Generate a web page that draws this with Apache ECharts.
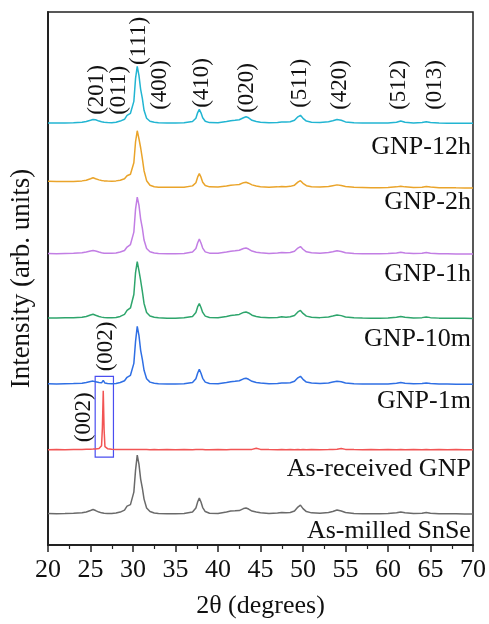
<!DOCTYPE html>
<html>
<head>
<meta charset="utf-8">
<title>XRD patterns</title>
<script src="https://cdn.jsdelivr.net/npm/echarts@6/dist/echarts.min.js"></script>
<style>
  html, body { margin: 0; padding: 0; background: #fff; }
  #main { width: 489px; height: 624px; }
</style>
</head>
<body>
<div id="main"></div>
<script>
// 2-theta sample points (degrees)
var twoTheta = [
  20, 21, 22, 23, 24, 24.5, 25, 25.3, 25.6, 26,
  26.3, 26.4, 26.5, 26.6, 26.7, 27, 27.5, 28, 28.5, 29,
  29.3, 29.5, 29.7, 29.9, 30.1, 30.3, 30.5, 30.7, 30.9, 31.1,
  31.3, 31.6, 32, 32.5, 33, 34, 35, 36, 37, 37.4,
  37.6, 37.8, 38, 38.2, 38.5, 39, 40, 41, 41.5, 42,
  42.5, 43, 43.3, 43.6, 44, 44.5, 45, 46, 47, 47.5,
  48, 48.5, 49, 49.4, 49.7, 50, 50.4, 51, 52, 53,
  53.5, 54, 54.5, 55, 56, 57, 58, 59, 60, 61,
  61.5, 62, 63, 64, 64.5, 65, 66, 67, 68, 69,
  70
];

// intensities above each pattern's own baseline (arb. units)
var asMilled = [
  0.5, 0.3, 0.5, 0.8, 1.2, 2, 3.5, 4.5, 3.5, 2,
  1.2, 1, 0.8, 0.8, 0.8, 0.6, 0.5, 1, 2, 4,
  8, 9.5, 9.5, 11, 22, 44, 59, 50, 35, 26,
  15, 6, 2.5, 1, 0.5, 0.2, 0.2, 0.5, 2, 6,
  12, 16, 12, 6.5, 2.5, 0.8, 0.5, 2, 3, 3.2,
  3.5, 5.5, 6, 5, 3, 2, 1.2, 0.6, 1, 1.5,
  1.2, 1.5, 3, 7, 9, 5.5, 2.5, 1.2, 0.8, 1.5,
  2.5, 4, 3, 1.5, 0.6, 0.4, 0.4, 0.3, 0.5, 1.2,
  2, 1.2, 0.5, 0.8, 1.6, 0.9, 0.3, 0.2, 0.2, 0.1,
  0
];
var asReceived = [
  0, 0.2, 0, 0.2, 0.3, 0.4, 0.5, 0.6, 0.8, 1.2,
  4, 22, 59, 20, 3, 1, 0.5, 0.3, 0.2, 0.2,
  0.2, 0.1, 0.2, 0.1, 0.2, 0.1, 0.2, 0.1, 0.2, 0.1,
  0.1, 0.1, 0, 0.1, 0, 0.1, 0, 0.1, 0, 0.1,
  0, 0.1, 0, 0.1, 0, 0, 0.1, 0, 0.1, 0.2,
  0.1, 0.2, 0.2, 0.1, 0.3, 1.5, 0.3, 0.1, 0, 0.1,
  0, 0.1, 0, 0.1, 0, 0.1, 0, 0.1, 0, 0.1,
  0.2, 0.4, 1.2, 0.3, 0.1, 0, 0.1, 0, 0.1, 0,
  0.1, 0, 0.1, 0, 0.1, 0, 0.1, 0, 0.1, 0,
  0
];
var gnp1m = [
  0.5, 0.3, 0.5, 0.7, 1, 1.8, 2.8, 3.2, 2.6, 1.8,
  1.5, 2.5, 4, 2, 1.2, 0.8, 0.6, 0.9, 1.8, 3.5,
  7, 8.5, 9, 10.5, 21, 43, 58, 49, 34, 25,
  14, 5.5, 2.2, 1, 0.5, 0.3, 0.3, 0.5, 1.8, 5.5,
  11, 15, 11, 6, 2.2, 0.8, 0.6, 1.8, 2.6, 3,
  3.6, 5.5, 6, 5, 3, 1.8, 1.2, 0.6, 0.9, 1.4,
  1.2, 1.5, 3, 6.5, 8, 5, 2.2, 1.2, 0.8, 1.4,
  2.2, 3, 2.6, 1.3, 0.6, 0.4, 0.3, 0.3, 0.4, 1,
  1.8, 1, 0.5, 0.7, 1.4, 0.8, 0.3, 0.2, 0.1, 0.1,
  0
];
var gnp10m = [
  0.5, 0.4, 0.6, 0.8, 1.2, 2, 3.5, 4.2, 3.2, 2,
  1.3, 1.1, 1, 0.9, 0.8, 0.7, 0.6, 1, 2, 4,
  8, 10, 10.5, 12, 24, 46, 57, 48, 38, 27,
  15, 6, 2.5, 1.2, 0.6, 0.3, 0.3, 0.6, 2, 6,
  11.5, 15, 11, 6, 2.3, 0.9, 0.7, 2, 3, 3.4,
  4, 6, 6.5, 5.5, 3.2, 2, 1.2, 0.6, 1, 1.6,
  1.3, 1.6, 3, 6.5, 8, 5, 2.3, 1.2, 0.8, 1.5,
  2.4, 3.5, 2.8, 1.4, 0.6, 0.4, 0.3, 0.3, 0.5, 1.1,
  2, 1.1, 0.5, 0.8, 1.5, 0.8, 0.3, 0.2, 0.1, 0.1,
  0
];
var gnp1h = [
  0.5, 0.4, 0.6, 0.8, 1.2, 2, 3, 3.5, 3, 2,
  1.3, 1.1, 1, 0.9, 0.8, 0.7, 0.7, 1, 2, 3.5,
  7, 9, 9.5, 11, 22, 45, 57, 49, 35, 26,
  14, 5.5, 2.3, 1.1, 0.6, 0.3, 0.3, 0.6, 2, 5.5,
  11, 15, 11, 6, 2.2, 0.9, 0.8, 2, 2.8, 3.2,
  3.8, 5.5, 6, 5, 3, 1.9, 1.2, 0.6, 1, 1.5,
  1.3, 1.5, 2.8, 6, 7.5, 4.8, 2.2, 1.2, 0.8, 1.5,
  2.3, 3.2, 2.6, 1.3, 0.6, 0.4, 0.3, 0.3, 0.5, 1,
  1.8, 1, 0.5, 0.8, 1.5, 0.8, 0.3, 0.2, 0.1, 0.1,
  0
];
var gnp2h = [
  6.5, 6.3, 6.2, 6.3, 6.8, 7.5, 9, 10, 9, 7.8,
  7.2, 7, 6.8, 6.8, 6.7, 6.6, 6.5, 6.8, 7.5, 9,
  12, 13, 13.5, 15, 25, 46, 57, 49, 40, 29,
  17, 7, 2.5, 1, 0.5, 0.3, 0.3, 0.5, 1.8, 5,
  10.5, 14, 10.5, 5.5, 2.2, 0.8, 0.6, 1.6, 2.4, 2.8,
  3.2, 5, 5.5, 4.5, 2.8, 1.6, 1, 0.5, 0.8, 1.2,
  1, 1.3, 2.5, 5.5, 7, 4.4, 2, 1, 0.6, 1.2,
  2, 2.8, 2.2, 1.1, 0.4, 0.2, 0, 0, 0.2, 0.8,
  1.5, 0.8, 0.2, 0.5, 1.2, 0.6, 0, 0, -0.2, -0.3,
  -0.3
];
var gnp12h = [
  0.3, 0.2, 0.4, 0.6, 1, 1.8, 3, 3.8, 3.5, 2.2,
  1.5, 1.3, 1.1, 1, 0.9, 0.7, 0.6, 1, 2.2, 4,
  8, 9.5, 10, 11.5, 22, 45, 57, 48, 34, 25,
  13, 5, 2, 1, 0.5, 0.2, 0.2, 0.5, 1.8, 5,
  10.5, 14, 10.5, 5.5, 2, 0.7, 0.5, 1.8, 2.6, 3,
  3.5, 5.5, 6.5, 5.5, 3, 1.8, 1.1, 0.5, 0.9, 1.4,
  1.2, 1.5, 3, 6.5, 8, 5, 2.2, 1.1, 0.8, 1.5,
  2.5, 3.8, 3, 1.4, 0.5, 0.3, 0.3, 0.2, 0.4, 1,
  2.2, 1, 0.4, 0.8, 1.6, 0.8, 0.2, 0.1, 0, 0,
  0
];

var sampleNames = ['As-milled SnSe', 'As-received GNP', 'GNP-1m', 'GNP-10m', 'GNP-1h', 'GNP-2h', 'GNP-12h'];
var sampleData = [asMilled, asReceived, gnp1m, gnp10m, gnp1h, gnp2h, gnp12h];
// vertical stacking offsets
var offsets = [31, 95.5, 161, 227, 291.5, 358, 422.5];
var colors = ['#6a6a6a', '#f25454', '#2f6fe4', '#2ea56c', '#c27ee4', '#eaa42a', '#22b5d2'];

// sample name label anchors [2theta, intensity]
var nameLabelPos = [[69.75, 14], [69.75, 76], [69.75, 144], [69.75, 206], [69.75, 271], [69.75, 343], [69.75, 399]];

// reflection labels [text, 2theta, intensity at text start]
var hklLabels = [
  ['(201)', 25.8, 431], ['(011)', 28.4, 431], ['(111)', 30.75, 481], ['(400)', 33.2, 436],
  ['(410)', 38.1, 438], ['(020)', 43.35, 433], ['(511)', 49.6, 438], ['(420)', 54.3, 436],
  ['(512)', 61.3, 436], ['(013)', 65.5, 436],
  ['(002)', 24.2, 103], ['(002)', 26.85, 174]
];
// box around graphite (002) peak
var boxRange = [[25.55, 88], [27.7, 169]];

var serif = '"Liberation Serif", "Times New Roman", serif';

var series = sampleNames.map(function (name, i) {
  var s = {
    name: name,
    type: 'line',
    showSymbol: false,
    animation: false,
    lineStyle: { color: colors[i], width: 1.5 },
    data: twoTheta.map(function (x, k) { return [x, offsets[i] + sampleData[i][k]]; })
  };
  if (name === 'As-received GNP') {
    s.markArea = {
      silent: true,
      itemStyle: { color: 'rgba(0,0,0,0)', borderColor: '#4a4ef0', borderWidth: 1.2 },
      data: [[{ coord: boxRange[0] }, { coord: boxRange[1] }]]
    };
  }
  return s;
});

var chart = echarts.init(document.getElementById('main'));
chart.setOption({
  animation: false,
  grid: { left: 48, right: 15, top: 12, bottom: 78, show: true, borderColor: '#222', borderWidth: 1.5 },
  xAxis: {
    type: 'value', min: 20, max: 70, interval: 5,
    name: '2θ (degrees)', nameLocation: 'middle', nameGap: 48,
    nameTextStyle: { fontFamily: serif, fontSize: 26, color: '#111' },
    axisLine: { lineStyle: { color: '#222', width: 2 } },
    axisTick: { inside: false, length: 7, lineStyle: { color: '#222', width: 1.5 } },
    minorTick: { show: true, splitNumber: 2, length: 4, lineStyle: { color: '#222', width: 1.2 } },
    axisLabel: { fontFamily: serif, fontSize: 26, color: '#111', margin: 12 },
    splitLine: { show: false }
  },
  yAxis: {
    type: 'value', min: 0, max: 534,
    name: 'Intensity (arb. units)', nameLocation: 'middle', nameGap: 13,
    nameTextStyle: { fontFamily: serif, fontSize: 27, color: '#111' },
    axisLine: { show: true, lineStyle: { color: '#222', width: 2 } },
    axisTick: { show: false },
    axisLabel: { show: false },
    splitLine: { show: false }
  },
  series: series
});

var texts = [];
sampleNames.forEach(function (name, i) {
  var p = chart.convertToPixel({ gridIndex: 0 }, nameLabelPos[i]);
  texts.push({
    type: 'text', x: p[0], y: p[1], silent: true,
    style: { text: name, font: '26px ' + serif, fill: '#111', align: 'right', verticalAlign: 'middle' }
  });
});
hklLabels.forEach(function (h) {
  var p = chart.convertToPixel({ gridIndex: 0 }, [h[1], h[2]]);
  texts.push({
    type: 'text', x: p[0], y: p[1], rotation: Math.PI / 2, silent: true,
    style: { text: h[0], font: '23px ' + serif, fill: '#111', align: 'left', verticalAlign: 'middle' }
  });
});
chart.setOption({ graphic: texts });
</script>
</body>
</html>
